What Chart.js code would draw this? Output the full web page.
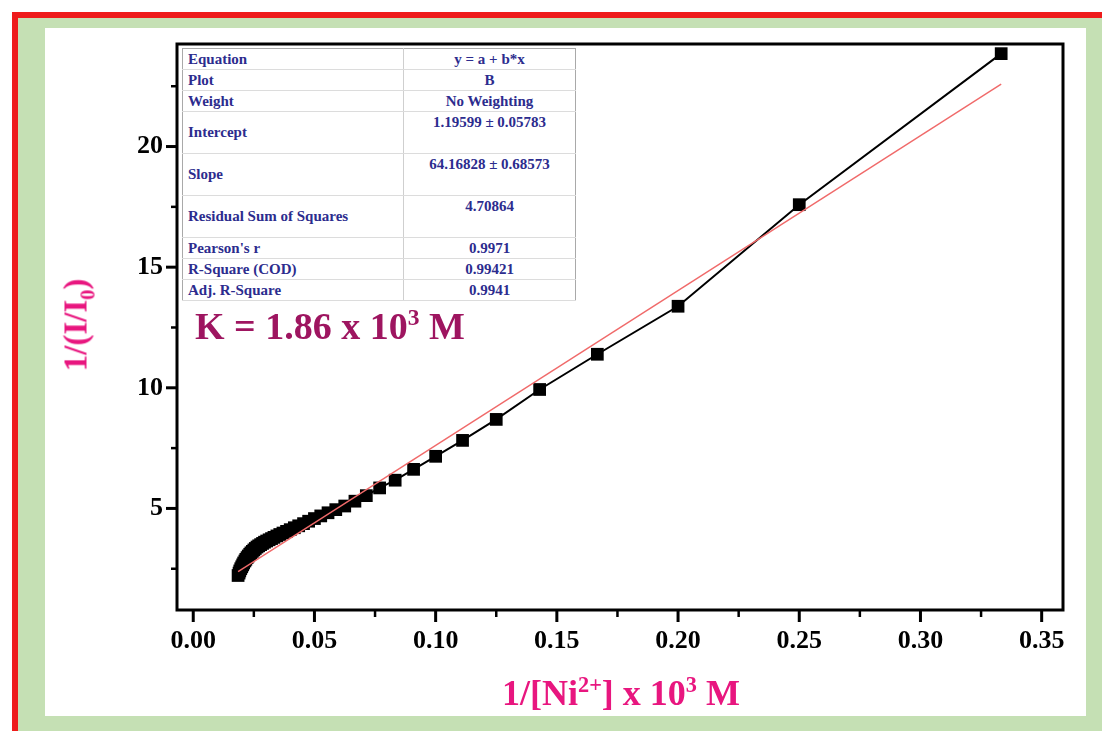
<!DOCTYPE html>
<html>
<head>
<meta charset="utf-8">
<script src="https://cdn.jsdelivr.net/npm/chart.js@4.4.1/dist/chart.umd.min.js"></script>
<style>
  html, body { margin: 0; padding: 0; }
  body { width: 1102px; height: 731px; position: relative; overflow: hidden; background: #fff;
         font-family: 'Liberation Serif', 'Times New Roman', serif; }
  #edge { position: absolute; left: 12px; top: 12px; right: 0; bottom: 0;
          border-top: 6px solid #ee1b1b; border-left: 6px solid #ee1b1b; background: #c5e0b4; }
  #sheet { position: absolute; left: 45px; top: 28px; width: 1041px; height: 688px; background: #fff; }
  #plot { position: absolute; left: 0; top: 0; }
  .ttl { position: absolute; font-weight: bold; color: #e8167f; white-space: nowrap; line-height: 1; }
  #ytitle { left: 76px; top: 325px; font-size: 33px; transform: translate(-50%, -50%) rotate(-90deg); }
  #xtitle { left: 621px; top: 693px; font-size: 36px; transform: translate(-50%, -50%); }
  .ttl sup, .ttl sub, #kval sup { font-size: 62%; line-height: 0; }
  #kval { position: absolute; left: 195px; top: 307px; font-size: 38px; font-weight: bold;
          color: #9e1560; white-space: nowrap; line-height: 1; }
  #stats { position: absolute; left: 182px; top: 48px; border-collapse: collapse;
           border: 1.5px solid #a9a9a9; background: #fff; font-size: 15px; font-weight: bold; color: #2c2c8e; }
  #stats td { border-bottom: 1px solid #dcdcdc; padding: 0 0 0 5px; white-space: nowrap; }
  #stats td.v { border-left: 1px solid #cfcfcf; text-align: center; padding: 0; width: 171px; }
  #stats td.k { width: 215px; }
  #stats tr.s td { height: 20px; vertical-align: middle; }
  #stats tr.t td { height: 41px; vertical-align: middle; }
  #stats tr.t td.v { vertical-align: top; padding-top: 2px; height: 39px; }
</style>
</head>
<body>
<div id="edge"></div>
<div id="sheet"></div>
<canvas id="plot" width="1102" height="731"></canvas>

<table id="stats">
  <tr class="s"><td class="k">Equation</td><td class="v">y = a + b*x</td></tr>
  <tr class="s"><td class="k">Plot</td><td class="v">B</td></tr>
  <tr class="s"><td class="k">Weight</td><td class="v">No Weighting</td></tr>
  <tr class="t"><td class="k">Intercept</td><td class="v">1.19599 ± 0.05783</td></tr>
  <tr class="t"><td class="k">Slope</td><td class="v">64.16828 ± 0.68573</td></tr>
  <tr class="t"><td class="k">Residual Sum of Squares</td><td class="v">4.70864</td></tr>
  <tr class="s"><td class="k">Pearson's r</td><td class="v">0.9971</td></tr>
  <tr class="s"><td class="k">R-Square (COD)</td><td class="v">0.99421</td></tr>
  <tr class="s"><td class="k">Adj. R-Square</td><td class="v">0.9941</td></tr>
</table>

<div id="kval">K = 1.86 x 10<sup>3</sup> M</div>
<div id="ytitle" class="ttl">1/(I/I<sub>0</sub>)</div>
<div id="xtitle" class="ttl">1/[Ni<sup>2+</sup>] x 10<sup>3</sup> M</div>

<script>
// 1/[Ni2+] (x 10^3 M) and the measured 1/(I/I0) for each addition
const invConc = [0.3333, 0.25, 0.2, 0.1667, 0.1429, 0.125, 0.1111, 0.1, 0.0909, 0.0833,
                 0.0769, 0.0714, 0.0667, 0.0625, 0.0588, 0.0556, 0.0526, 0.05, 0.0476, 0.0455,
                 0.0435, 0.0417, 0.04, 0.0385, 0.037, 0.0357, 0.0345, 0.0333, 0.0323, 0.0313,
                 0.0303, 0.0294, 0.0286, 0.0278, 0.027, 0.0263, 0.0256, 0.025, 0.0244, 0.0238,
                 0.0233, 0.0227, 0.0222, 0.0217, 0.0213, 0.0208, 0.0204, 0.02, 0.0196, 0.0192,
                 0.0189, 0.0185];
const invIntensity = [23.85, 17.59, 13.38, 11.39, 9.93, 8.69, 7.82, 7.16, 6.62, 6.17,
                      5.85, 5.53, 5.30, 5.10, 4.95, 4.82, 4.69, 4.58, 4.47, 4.37,
                      4.28, 4.20, 4.12, 4.05, 3.98, 3.92, 3.86, 3.80, 3.75, 3.70,
                      3.65, 3.60, 3.55, 3.50, 3.45, 3.40, 3.34, 3.28, 3.22, 3.16,
                      3.10, 3.03, 2.96, 2.89, 2.82, 2.74, 2.66, 2.58, 2.50, 2.41,
                      2.32, 2.22];

// linear fit y = a + b*x
const fitIntercept = 1.19599;
const fitSlope = 64.16828;
const fitRangeX = [0.0185, 0.3333];

// axis ticks
const xMajorTicks = [0, 0.05, 0.10, 0.15, 0.20, 0.25, 0.30, 0.35];
const xMinorTicks = [0.025, 0.075, 0.125, 0.175, 0.225, 0.275, 0.325];
const yMajorTicks = [5, 10, 15, 20];
const yMinorTicks = [2.5, 7.5, 12.5, 17.5, 22.5];

const measured = invConc.map((x, i) => ({ x: x, y: invIntensity[i] }));
const fitted = fitRangeX.map(x => ({ x: x, y: fitIntercept + fitSlope * x }));

const near = (a, list) => list.some(v => Math.abs(v - a) < 1e-9);
const tickFont = { family: "'Liberation Serif', 'Times New Roman', serif", size: 26, weight: 'bold' };

// frame around the plot area plus outward major/minor tick marks
const frameAndTicks = {
  id: 'frameAndTicks',
  afterDraw(chart) {
    const { ctx, chartArea: a, scales: { x, y } } = chart;
    ctx.save();
    ctx.strokeStyle = '#000';
    ctx.lineCap = 'butt';
    const tick = (x0, y0, x1, y1, w) => {
      ctx.lineWidth = w; ctx.beginPath(); ctx.moveTo(x0, y0); ctx.lineTo(x1, y1); ctx.stroke();
    };
    xMajorTicks.forEach(v => { const p = x.getPixelForValue(v); tick(p, a.bottom, p, a.bottom + 12, 3); });
    xMinorTicks.forEach(v => { const p = x.getPixelForValue(v); tick(p, a.bottom, p, a.bottom + 7, 2.5); });
    yMajorTicks.forEach(v => { const p = y.getPixelForValue(v); tick(a.left, p, a.left - 11, p, 3); });
    yMinorTicks.forEach(v => { const p = y.getPixelForValue(v); tick(a.left, p, a.left - 6, p, 2.5); });
    ctx.lineWidth = 3;
    ctx.strokeRect(a.left, a.top, a.right - a.left, a.bottom - a.top);
    ctx.restore();
  }
};

new Chart(document.getElementById('plot'), {
  type: 'scatter',
  data: {
    datasets: [
      {
        label: 'Linear fit',
        data: fitted,
        showLine: true,
        borderColor: '#f06a6a',
        borderWidth: 1.4,
        pointRadius: 0,
        fill: false
      },
      {
        label: '1/(I/I0)',
        data: measured,
        showLine: true,
        borderColor: '#000',
        borderWidth: 2,
        pointStyle: 'rect',
        pointRadius: 9,
        pointBackgroundColor: '#000',
        pointBorderColor: '#000',
        pointBorderWidth: 0,
        fill: false
      }
    ]
  },
  options: {
    responsive: false,
    animation: false,
    events: [],
    layout: { padding: { left: 0, top: 44, right: 39, bottom: 0 } },
    plugins: { legend: { display: false }, tooltip: { enabled: false } },
    scales: {
      x: {
        type: 'linear',
        min: -0.0067,
        max: 0.3588,
        border: { display: false },
        grid: { drawOnChartArea: false, drawTicks: true, tickLength: 12, tickColor: 'rgba(0,0,0,0)' },
        afterBuildTicks: s => { s.ticks = xMajorTicks.concat(xMinorTicks).sort((p, q) => p - q).map(v => ({ value: v })); },
        afterFit: s => { s.height = 121; },
        ticks: {
          autoSkip: false, maxRotation: 0, padding: 4, color: '#000', font: tickFont,
          callback: v => near(v, xMajorTicks) ? v.toFixed(2) : ''
        }
      },
      y: {
        type: 'linear',
        min: 0.79,
        max: 24.25,
        border: { display: false },
        grid: { drawOnChartArea: false, drawTicks: true, tickLength: 11, tickColor: 'rgba(0,0,0,0)' },
        afterBuildTicks: s => { s.ticks = yMajorTicks.concat(yMinorTicks).sort((p, q) => p - q).map(v => ({ value: v })); },
        afterFit: s => { s.width = 177; },
        ticks: {
          autoSkip: false, padding: 3, color: '#000', font: tickFont,
          callback: v => near(v, yMajorTicks) ? String(v) : ''
        }
      }
    }
  },
  plugins: [frameAndTicks]
});
</script>
</body>
</html>
